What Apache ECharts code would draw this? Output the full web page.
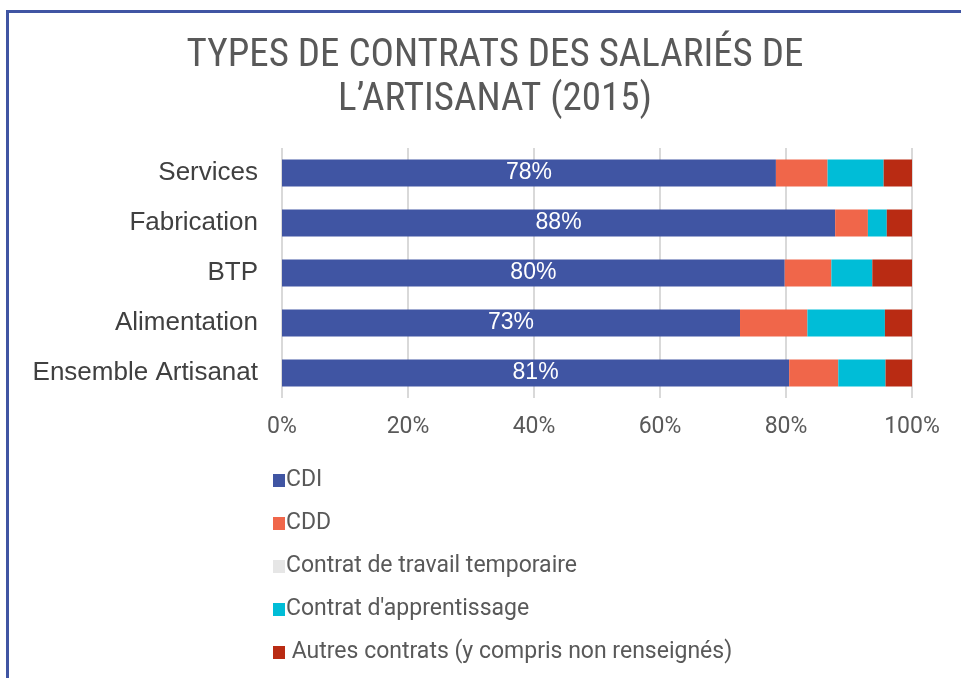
<!DOCTYPE html>
<html>
<head>
<meta charset="utf-8">
<script src="https://cdn.jsdelivr.net/npm/echarts@6/dist/echarts.min.js"></script>
<style>
  html, body { margin: 0; padding: 0; background: #fff; }
  #chart { width: 961px; height: 678px; }
</style>
</head>
<body>
<div id="chart"></div>
<script>
// Categories (top to bottom)
var categories = ['Services', 'Fabrication', 'BTP', 'Alimentation', 'Ensemble Artisanat'];

// Shares in %
var cdi = [78.4, 87.8, 79.8, 72.7, 80.5];
var cdd = [8.2, 5.2, 7.4, 10.7, 7.8];
var temporaire = [0, 0, 0, 0, 0];
var apprentissage = [8.9, 3.0, 6.5, 12.3, 7.5];
var autres = [4.5, 4.0, 6.3, 4.3, 4.2];

var seriesNames = ['CDI', 'CDD', 'Contrat de travail temporaire', "Contrat d'apprentissage", 'Autres contrats (y compris non renseignés)'];
var colors = ['#4055A3', '#F0664A', '#E6E6E6', '#00BDD7', '#B92B13'];

var chart = echarts.init(document.getElementById('chart'));

function bar(name, data, color, withLabel) {
  return {
    name: name,
    type: 'bar',
    stack: 'total',
    barWidth: 27,
    data: data,
    itemStyle: { color: color },
    label: withLabel ? {
      show: true,
      position: 'inside',
      color: '#fff',
      fontSize: 23,
      fontFamily: 'Liberation Sans, Arial, sans-serif',
      formatter: function (p) { return Math.round(p.value) + '%'; }
    } : { show: false }
  };
}

chart.setOption({
  animation: false,
  color: colors,
  title: {
    text: 'TYPES DE CONTRATS DES SALARIÉS DE\nL\u2019ARTISANAT (2015)',
    left: 490,
    top: 29,
    textAlign: 'center',
    textStyle: {
      fontFamily: "'Roboto Condensed', 'Liberation Sans Narrow', 'Arial Narrow', sans-serif",
      fontWeight: 'normal',
      fontSize: 39,
      lineHeight: 44,
      color: '#595959'
    }
  },
  grid: { left: 282, right: 49, top: 148, bottom: 280 },
  xAxis: {
    type: 'value',
    min: 0,
    max: 100,
    interval: 20,
    axisLine: { show: false },
    axisTick: { show: false },
    splitLine: { lineStyle: { color: '#D9D9D9', width: 2 } },
    axisLabel: {
      formatter: '{value}%',
      margin: 18,
      fontSize: 23,
      color: '#595959',
      fontFamily: 'Roboto, sans-serif'
    }
  },
  yAxis: {
    type: 'category',
    inverse: true,
    data: categories,
    axisLine: { show: false },
    axisTick: { show: false },
    axisLabel: {
      margin: 24,
      fontSize: 26,
      color: '#404040',
      fontFamily: 'Liberation Sans, Arial, sans-serif'
    }
  },
  legend: {
    orient: 'vertical',
    left: 268,
    top: 464,
    itemWidth: 12,
    itemHeight: 13,
    itemGap: 20,
    icon: 'rect',
    data: seriesNames,
    formatter: function (n) { return n.indexOf('Autres') === 0 ? ' ' + n : n; },
    textStyle: {
      fontSize: 23,
      lineHeight: 22,
      color: '#595959',
      padding: [0, 0, 0, -4],
      fontFamily: 'Roboto, sans-serif'
    }
  },
  graphic: [
    { type: 'rect', shape: { x: 6, y: 10, width: 955, height: 3 }, style: { fill: '#4055A3' } },
    { type: 'rect', shape: { x: 6, y: 10, width: 3, height: 668 }, style: { fill: '#4055A3' } }
  ],
  series: [
    bar(seriesNames[0], cdi, colors[0], true),
    bar(seriesNames[1], cdd, colors[1], false),
    bar(seriesNames[2], temporaire, colors[2], false),
    bar(seriesNames[3], apprentissage, colors[3], false),
    bar(seriesNames[4], autres, colors[4], false)
  ]
});
</script>
</body>
</html>
